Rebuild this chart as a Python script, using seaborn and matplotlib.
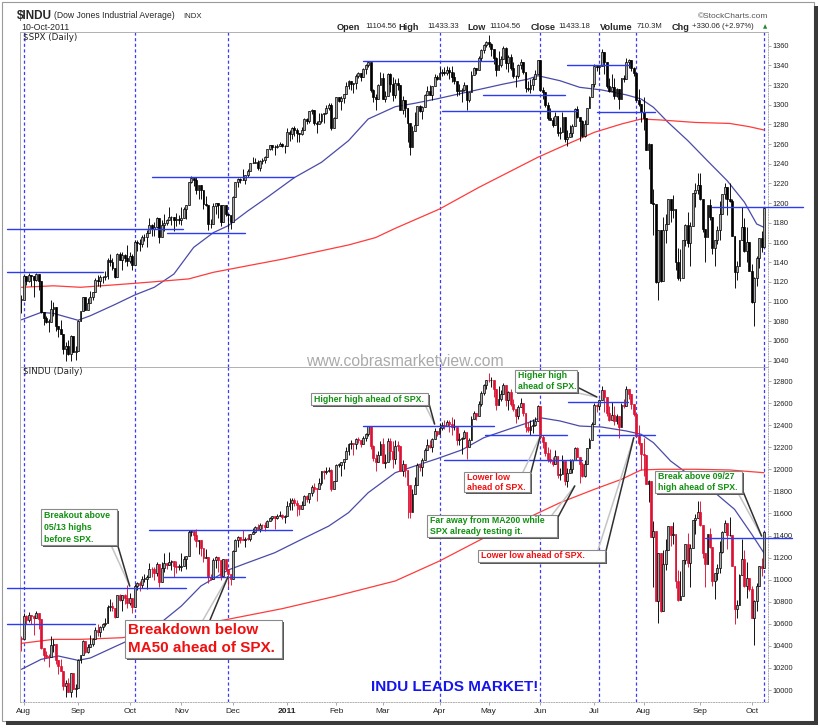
import numpy as np
import pandas as pd
import matplotlib
matplotlib.use("Agg")
import matplotlib.pyplot as plt
import seaborn as sns
from matplotlib.patches import Rectangle
from matplotlib.lines import Line2D

sns.set_theme(style="white")
plt.rcParams['font.family'] = ['Liberation Sans', 'DejaVu Sans']

# ---------------- data ----------------
holidays = ["2010-09-06", "2010-11-25", "2010-12-24", "2011-01-17", "2011-02-21",
            "2011-04-22", "2011-05-30", "2011-07-04", "2011-09-05"]
days = pd.bdate_range("2010-07-30", "2011-10-10")
days = days[~days.isin(pd.to_datetime(holidays))]

spx_first_open = 1101.5
spx_close = [1101.6,
 1125.9,1120.5,1127.2,1125.8,1121.6,1127.8,1121.1,1089.5,1083.6,1079.3,1079.4,1092.5,1094.2,1075.6,1071.7,1067.4,1051.9,1055.3,1047.2,1064.6,1048.9,1049.3,
 1080.3,1090.1,1104.5,1091.8,1098.9,1104.2,1109.6,1121.9,1121.1,1125.1,1124.7,1125.6,1142.7,1139.8,1134.3,1124.8,1148.7,1142.2,1147.7,1144.7,1141.2,
 1146.2,1137.0,1160.8,1160.0,1158.1,1165.2,1165.3,1169.8,1178.1,1173.8,1176.2,1184.7,1165.9,1178.2,1180.3,1183.1,1185.6,1185.6,1182.5,1183.8,1183.3,
 1184.4,1193.6,1198.0,1221.1,1225.9,1223.3,1213.4,1218.7,1213.5,1199.2,1197.8,1178.3,1178.6,1196.7,1199.7,1197.8,1180.7,1198.4,1189.4,1187.8,1180.6,
 1206.1,1221.5,1224.7,1223.1,1223.8,1228.3,1233.0,1240.4,1240.5,1241.6,1235.2,1242.9,1243.9,1247.1,1254.6,1258.8,1256.8,1257.5,1258.5,1259.8,1257.9,1257.6,
 1271.9,1270.2,1276.6,1273.9,1271.5,1269.8,1274.5,1286.0,1283.8,1293.2,1295.0,1281.9,1280.3,1283.4,1290.8,1291.2,1296.6,1299.5,1276.3,1286.1,
 1307.6,1304.0,1307.1,1310.9,1319.1,1324.6,1320.9,1321.9,1329.2,1332.3,1328.0,1336.3,1340.4,1343.0,1315.4,1307.4,1306.1,1319.9,1327.2,
 1306.3,1308.4,1331.0,1321.2,1310.1,1321.8,1320.0,1295.1,1304.3,1296.4,1281.9,1256.9,1273.7,1279.2,1298.4,1293.8,1297.5,1309.7,1313.8,1310.2,1319.4,1328.3,1325.8,
 1332.4,1332.9,1332.6,1335.5,1333.5,1328.2,1324.5,1314.2,1314.4,1314.5,1319.7,1305.1,1312.6,1330.4,1337.4,1335.3,1347.2,1355.7,1360.5,1363.6,
 1361.2,1356.6,1347.3,1335.1,1340.2,1346.3,1357.2,1342.1,1348.7,1337.8,1329.5,1329.0,1340.7,1343.6,1333.3,1317.4,1316.3,1320.5,1325.7,1331.1,1345.2,
 1314.6,1312.9,1300.2,1286.2,1284.9,1279.6,1289.0,1271.0,1271.8,1287.9,1265.4,1267.6,1271.5,1278.4,1295.5,1287.1,1283.5,1268.5,1280.1,1296.7,1307.4,1320.6,
 1339.7,1337.9,1339.2,1353.2,1343.8,1319.5,1313.6,1317.7,1308.9,1316.1,1305.4,1326.7,1325.8,1343.8,1345.0,1337.4,1331.9,1304.9,1300.7,1292.3,
 1286.9,1254.1,1260.3,1200.1,1199.4,1119.5,1172.5,1120.8,1172.6,1178.8,1204.5,1192.8,1193.9,1140.7,1123.5,1123.8,1162.4,1177.6,1159.3,1176.8,1210.1,1212.9,1218.9,
 1204.4,1174.0,1165.2,1198.6,1185.9,1154.2,1162.3,1172.9,1188.7,1209.1,1216.0,1204.1,1202.1,1166.8,1129.6,1136.4,1163.0,1175.4,1151.1,1160.4,1131.4,
 1099.2,1124.0,1144.0,1165.0,1155.5,1194.9]
spx_high = [1106.4,
 1127.3,1125.4,1128.8,1126.6,1122.8,1129.2,1127.2,1111.7,1086.3,1085.8,1082.6,1101.7,1099.8,1093.8,1075.6,1081.6,1067.4,1059.4,1061.4,1065.9,1064.5,1055.1,
 1081.3,1090.1,1105.1,1102.6,1103.3,1110.9,1110.0,1123.5,1127.4,1126.5,1126.1,1131.5,1144.4,1148.6,1144.4,1133.9,1148.9,1149.9,1150.0,1148.6,1157.2,
 1150.3,1148.2,1162.8,1162.3,1163.9,1167.7,1168.7,1172.6,1184.4,1178.9,1181.2,1185.5,1178.6,1182.9,1189.4,1183.9,1196.1,1187.1,1183.8,1189.5,1187.9,
 1195.8,1196.1,1198.3,1221.3,1227.1,1224.6,1226.8,1218.8,1215.5,1210.5,1207.4,1194.1,1183.6,1200.1,1199.9,1198.9,1190.9,1198.4,1198.4,1189.4,1187.4,
 1207.6,1221.9,1225.6,1225.7,1235.1,1228.9,1234.3,1240.4,1246.7,1246.1,1244.3,1243.7,1245.8,1248.3,1255.0,1259.4,1258.6,1258.6,1259.9,1262.6,1261.0,1259.3,
 1276.2,1274.1,1277.6,1278.2,1276.8,1271.5,1277.6,1286.2,1286.6,1293.2,1296.1,1294.6,1283.0,1291.2,1291.3,1291.3,1299.7,1301.3,1301.4,1287.2,
 1308.0,1307.6,1308.6,1311.0,1322.9,1324.9,1324.6,1322.0,1330.8,1332.8,1330.6,1337.8,1341.5,1344.1,1338.9,1316.4,1310.9,1320.9,1333.1,
 1332.3,1314.4,1332.3,1332.0,1327.7,1325.7,1326.8,1315.7,1308.4,1301.9,1284.3,1280.9,1278.7,1292.3,1299.2,1299.4,1298.4,1311.3,1319.2,1319.7,1319.4,1331.7,1329.8,
 1337.9,1336.7,1338.2,1339.5,1338.8,1339.5,1333.2,1321.4,1321.4,1316.8,1323.0,1319.1,1313.0,1334.2,1338.3,1337.5,1349.6,1357.1,1361.7,1364.6,
 1370.6,1362.9,1355.4,1348.3,1354.4,1349.4,1359.4,1358.7,1351.0,1351.1,1343.3,1330.4,1341.3,1346.8,1342.8,1333.1,1323.7,1325.9,1328.5,1334.8,1345.2,
 1345.2,1318.0,1312.9,1302.3,1296.2,1287.9,1292.7,1289.0,1277.0,1292.5,1286.0,1274.1,1279.8,1280.4,1297.0,1298.6,1286.8,1284.9,1284.5,1296.8,1309.2,1321.4,
 1341.0,1340.0,1340.2,1356.5,1343.8,1343.3,1327.2,1331.5,1327.1,1317.5,1315.4,1327.4,1330.4,1347.0,1346.1,1345.0,1338.5,1331.9,1316.3,1300.6,
 1307.4,1286.9,1261.0,1260.2,1214.4,1198.9,1172.9,1162.8,1186.3,1189.0,1204.5,1204.5,1208.5,1193.9,1154.1,1153.4,1162.4,1178.5,1190.7,1181.2,1210.3,1220.1,1230.7,
 1230.3,1204.4,1173.9,1198.6,1204.2,1185.9,1162.5,1176.4,1202.4,1209.1,1220.1,1216.0,1220.4,1204.4,1166.8,1141.7,1163.0,1195.9,1184.6,1175.3,1160.4,
 1138.1,1125.2,1146.1,1165.0,1171.4,1194.9]
spx_low = [1088.0,
 1107.7,1116.8,1119.5,1116.1,1105.0,1120.9,1111.6,1088.6,1076.6,1078.7,1069.2,1079.4,1085.8,1070.2,1063.9,1067.1,1046.7,1039.8,1045.4,1039.7,1048.8,1040.9,
 1049.7,1080.4,1091.3,1091.2,1091.7,1100.0,1101.2,1109.6,1115.6,1114.6,1118.9,1122.4,1122.8,1136.2,1131.6,1124.0,1131.9,1142.0,1132.1,1140.3,1136.1,
 1139.4,1131.9,1140.7,1151.4,1151.4,1155.6,1162.0,1155.7,1171.3,1166.7,1167.1,1174.6,1159.7,1166.7,1171.2,1178.0,1184.7,1177.7,1171.7,1177.1,1179.0,
 1177.7,1184.7,1183.6,1198.3,1220.3,1217.0,1208.9,1204.3,1204.5,1194.1,1197.2,1173.0,1175.2,1178.6,1189.4,1184.6,1176.6,1180.7,1186.7,1173.6,1174.1,
 1186.6,1206.2,1216.1,1220.7,1223.3,1219.5,1226.8,1232.6,1240.3,1240.3,1234.0,1232.9,1239.9,1240.5,1247.6,1254.2,1254.1,1248.5,1256.2,1258.5,1256.8,1250.8,
 1257.6,1262.7,1265.4,1268.7,1261.7,1262.2,1269.6,1275.0,1280.5,1281.1,1290.2,1278.9,1271.3,1282.1,1281.1,1281.1,1291.0,1294.4,1274.8,1276.6,
 1286.1,1302.6,1294.8,1301.4,1312.2,1316.0,1314.9,1311.7,1316.1,1326.9,1324.6,1328.0,1331.0,1338.0,1312.6,1302.4,1294.3,1307.3,1320.6,
 1306.1,1302.6,1312.4,1312.8,1303.7,1306.9,1314.9,1294.2,1291.0,1288.0,1262.0,1249.1,1262.2,1279.2,1282.8,1292.7,1285.7,1297.7,1310.2,1310.2,1305.3,1321.9,1325.0,
 1328.9,1329.1,1330.0,1330.7,1326.6,1322.9,1321.1,1309.2,1309.5,1302.4,1314.4,1294.5,1302.9,1312.6,1330.4,1331.1,1335.3,1344.4,1352.9,1358.7,
 1358.6,1349.4,1341.5,1329.2,1336.4,1338.6,1346.3,1336.0,1333.5,1335.5,1327.3,1318.5,1326.7,1336.1,1330.8,1312.6,1313.9,1311.8,1314.6,1325.7,1331.1,
 1313.7,1305.6,1297.9,1284.9,1284.7,1277.4,1279.6,1268.6,1265.6,1272.7,1261.9,1258.1,1267.4,1267.6,1278.4,1287.0,1262.9,1267.5,1267.5,1280.1,1296.7,1307.4,
 1318.0,1334.0,1330.9,1339.2,1330.9,1317.0,1313.3,1314.2,1306.0,1307.4,1295.9,1305.4,1323.6,1325.9,1336.9,1334.7,1329.2,1303.5,1299.2,1282.9,
 1274.7,1254.0,1234.6,1200.0,1168.1,1119.3,1101.5,1120.1,1121.0,1159.0,1178.8,1180.5,1184.5,1132.1,1122.1,1121.2,1123.8,1156.3,1155.1,1135.9,1179.4,1195.8,1209.4,
 1203.4,1170.6,1140.1,1165.2,1183.3,1148.4,1136.1,1158.7,1162.7,1188.7,1204.5,1188.0,1201.3,1166.7,1114.2,1121.4,1136.9,1163.0,1150.5,1139.9,1131.4,
 1098.9,1074.8,1116.1,1134.0,1150.3,1158.7]

indu_first_open = 10467
indu_close = [10466,
 10674,10636,10680,10675,10654,10699,10644,10379,10320,10303,10302,10406,10416,10271,10214,10174,10040,10060,9986,10151,10010,10015,
 10269,10320,10448,10341,10387,10415,10463,10544,10526,10573,10595,10608,10754,10761,10739,10662,10860,10812,10858,10835,10788,
 10830,10751,10945,10968,10949,11006,11010,11020,11096,11095,11063,11144,10979,11108,11147,11133,11164,11169,11126,11114,11118,
 11125,11189,11215,11435,11444,11407,11347,11357,11283,11193,11202,11024,11008,11181,11204,11179,11036,11187,11092,11052,11006,
 11256,11362,11382,11362,11359,11372,11370,11410,11429,11477,11457,11499,11492,11478,11533,11559,11573,11555,11576,11585,11570,11578,
 11671,11691,11723,11697,11675,11637,11672,11755,11732,11787,11838,11825,11823,11872,11981,11977,11985,11990,11824,11892,
 12040,12042,12062,12092,12162,12233,12240,12229,12273,12268,12227,12288,12318,12391,12213,12106,12069,12130,12226,
 12058,12067,12258,12170,12090,12214,12213,11985,12044,11993,11855,11613,11775,11859,12037,12019,12086,12171,12221,12198,12279,12351,12320,
 12377,12400,12394,12427,12409,12380,12381,12264,12271,12285,12342,12202,12267,12454,12506,12480,12595,12691,12763,12811,
 12807,12808,12724,12584,12639,12685,12760,12630,12696,12596,12548,12480,12560,12605,12512,12381,12356,12395,12403,12442,12570,
 12290,12249,12151,12090,12071,12049,12124,11952,11953,12076,11897,11962,12004,12080,12190,12110,12050,11935,12044,12189,12261,12414,
 12583,12570,12626,12719,12657,12506,12447,12492,12437,12480,12385,12587,12572,12724,12681,12593,12501,12303,12240,12143,
 12132,11867,11896,11384,11445,10810,11240,10720,11143,11269,11483,11406,11410,10991,10818,10855,11177,11321,11150,11285,11539,11560,11614,
 11494,11240,11139,11415,11296,10992,11061,11106,11247,11433,11509,11401,11409,11125,10734,10771,11044,11191,10939,11011,10913,
 10655,10809,10940,11123,11103,11433]
indu_high = [10492,
 10702,10678,10705,10682,10676,10719,10699,10644,10378,10350,10326,10486,10464,10415,10275,10280,10174,10090,10110,10156,10150,10057,
 10280,10321,10453,10448,10415,10494,10469,10570,10596,10583,10609,10653,10767,10821,10800,10740,10861,10870,10862,10870,10948,
 10880,10830,10961,10981,10990,11029,11053,11045,11155,11118,11116,11158,11144,11159,11245,11148,11247,11179,11169,11171,11142,
 11238,11215,11217,11451,11452,11444,11455,11358,11347,11282,11282,11202,11048,11200,11211,11200,11178,11188,11187,11092,11051,
 11269,11367,11396,11388,11452,11382,11412,11412,11467,11490,11502,11510,11505,11525,11543,11567,11577,11573,11594,11620,11592,11582,
 11711,11743,11742,11742,11726,11674,11717,11764,11771,11788,11861,11877,11833,11924,11986,11990,12021,12020,12000,11895,
 12051,12055,12066,12093,12201,12234,12264,12240,12285,12295,12268,12303,12325,12392,12365,12221,12141,12163,12258,
 12285,12138,12283,12283,12258,12262,12259,12213,12081,12044,11993,11856,11818,11927,12060,12051,12099,12191,12270,12267,12280,12371,12350,
 12419,12428,12447,12450,12451,12471,12452,12381,12329,12296,12355,12342,12282,12483,12526,12510,12617,12706,12777,12812,
 12877,12840,12808,12724,12756,12715,12784,12761,12713,12728,12640,12548,12581,12648,12605,12512,12429,12446,12455,12472,12580,
 12570,12309,12249,12202,12186,12110,12171,12124,12011,12134,12062,12015,12095,12096,12205,12199,12098,12070,12083,12191,12288,12429,
 12599,12593,12636,12753,12657,12652,12570,12609,12577,12500,12480,12604,12636,12751,12728,12681,12593,12501,12401,12240,
 12283,12132,11907,11896,11532,11433,11244,11237,11270,11366,11483,11482,11520,11405,11090,11075,11177,11325,11427,11324,11540,11592,11717,
 11716,11493,11240,11415,11470,11296,11063,11145,11354,11437,11539,11508,11572,11406,11120,10819,11047,11366,11266,11164,11010,
 10943,10814,10968,11124,11195,11433]
indu_low = [10350,
 10468,10600,10618,10597,10501,10654,10553,10370,10264,10297,10207,10302,10346,10235,10147,10170,10000,9936,9978,9941,10009,9937,
 10016,10242,10321,10338,10336,10387,10400,10463,10487,10482,10545,10580,10608,10718,10713,10656,10663,10810,10714,10778,10742,
 10773,10696,10752,10910,10900,10920,10983,10915,11020,11020,10994,11035,10929,10979,11067,11093,11133,11091,11025,11062,11087,
 11074,11125,11095,11215,11391,11356,11300,11236,11210,11158,11192,10969,10994,11008,11108,11072,10996,11036,11075,10929,10955,
 11007,11256,11294,11334,11358,11300,11356,11350,11410,11426,11448,11436,11462,11443,11478,11528,11540,11461,11548,11575,11549,11513,
 11578,11630,11634,11663,11578,11583,11637,11672,11702,11696,11762,11790,11717,11823,11860,11910,11960,11973,11803,11824,
 11892,12020,11937,12005,12092,12133,12186,12127,12180,12239,12199,12227,12256,12306,12180,12073,11983,12069,12130,
 12055,12016,12067,12088,12012,12050,12163,11983,11937,11931,11555,11555,11613,11775,11859,11986,11939,12086,12171,12194,12153,12279,12304,
 12320,12353,12368,12394,12334,12313,12352,12221,12216,12141,12270,12093,12202,12267,12454,12450,12480,12577,12676,12732,
 12790,12743,12651,12534,12584,12619,12685,12569,12537,12577,12532,12418,12455,12560,12482,12334,12339,12315,12333,12396,12442,
 12276,12193,12116,12068,12060,12027,12049,11925,11904,11953,11862,11842,11978,11965,12080,12108,11874,11926,11926,12044,12189,12261,
 12414,12522,12539,12626,12520,12483,12442,12460,12405,12409,12282,12385,12553,12571,12637,12543,12479,12289,12216,11993,
 11938,11864,11700,11383,10929,10809,10604,10711,10720,11087,11269,11306,11323,10923,10811,10813,10854,11142,11114,10929,11286,11415,11560,
 11483,11200,10932,11140,11283,10942,10825,10993,11061,11244,11433,11280,11397,11122,10597,10648,10771,11044,10937,10834,10897,
 10653,10404,10719,10939,11033,11105]

# moving averages
spx_ma50_dates = ["2010-07-30","2010-08-11","2010-08-18","2010-09-01","2010-09-09","2010-09-23","2010-10-05","2010-10-15",
    "2010-10-27","2010-11-08","2010-11-18","2010-11-29","2010-12-09","2010-12-21","2011-01-06","2011-01-24","2011-02-08",
    "2011-02-18","2011-03-08","2011-03-18","2011-03-31","2011-04-14","2011-04-27","2011-05-10","2011-05-24","2011-05-31",
    "2011-06-13","2011-06-23","2011-07-07","2011-07-21","2011-07-29","2011-08-05","2011-08-15","2011-08-25","2011-09-07",
    "2011-09-19","2011-09-28","2011-10-05","2011-10-10"]
spx_ma50 = [1081.5,1089,1088,1081,1085.6,1097,1106.6,1114.5,1128,1155,1170,1177,1192,1206,1226,1241.5,1263.5,1285.5,1298,
    1301.5,1306,1311.6,1316,1321,1326,1329.5,1324.4,1317.7,1315,1310,1305.8,1297.4,1282,1263.5,1243,1222.8,1201,1178.8,1175.4]
spx_ma200_dates = ["2010-07-30","2010-08-18","2010-09-02","2010-09-23","2010-10-12","2010-11-04","2010-11-18","2010-12-09",
    "2010-12-30","2011-01-19","2011-02-08","2011-02-24","2011-03-08","2011-04-01","2011-04-26","2011-05-18","2011-05-31",
    "2011-06-16","2011-07-01","2011-07-19","2011-07-29","2011-08-10","2011-08-30","2011-09-20","2011-09-30","2011-10-10"]
spx_ma200 = [1114.5,1116,1114.5,1117,1119.5,1123,1129.7,1136.4,1143,1150,1157.5,1165,1174.4,1194,1216,1236.4,1246.6,
    1260,1272,1280.4,1285.5,1284.5,1282,1281,1277.7,1274.3]
indu_ma50_dates = ["2010-07-30","2010-08-11","2010-08-20","2010-09-01","2010-09-09","2010-09-23","2010-10-05","2010-10-18",
    "2010-11-01","2010-11-11","2010-11-23","2010-11-29","2010-12-09","2010-12-27","2011-01-11","2011-01-27","2011-02-08",
    "2011-02-18","2011-03-08","2011-03-18","2011-03-31","2011-04-14","2011-04-28","2011-05-12","2011-05-24","2011-06-01",
    "2011-06-13","2011-06-23","2011-07-07","2011-07-21","2011-07-29","2011-08-05","2011-08-16","2011-08-30","2011-09-12",
    "2011-09-22","2011-10-03","2011-10-10"]
indu_ma50 = [10188,10278,10308,10269,10290,10393,10474,10580,10761,10943,11048,11087,11154,11244,11366,11486,11607,11788,
    11969,12030,12096,12175,12286,12362,12422,12467,12438,12392,12383,12347,12317,12241,12075,11909,11788,11637,11411,11240]
indu_ma200_dates = ["2010-07-30","2010-08-18","2010-09-02","2010-09-28","2010-11-29","2010-12-30","2011-01-31","2011-03-08",
    "2011-04-01","2011-04-27","2011-05-24","2011-06-13","2011-07-01","2011-07-19","2011-07-29","2011-08-10","2011-08-30",
    "2011-09-20","2011-10-10"]
indu_ma200 = [10423,10459,10459,10474,10641,10737,10846,10988,11169,11366,11561,11697,11819,11909,11994,12000,12000,11994,11969]

# author's support / resistance lines (trading-day positions, level)
spx_levels = [1130, 1173.6, 1170, 1227, 1344, 1310, 1294, 1340, 1293, 1195.9]
spx_level_from = [-6, -6, 59, 53, 139, 187.6, 171, 222, 234, 281]
spx_level_to = [33, 65.5, 91, 111, 192, 221, 226, 247, 257.6, 318]
indu_levels = [10601, 10922, 11452, 11021, 12389, 12308, 12081, 12610, 12308, 11377]
indu_level_from = [-6, -6, 52, 57.5, 139, 188.4, 172, 222.3, 234, 278]
indu_level_to = [29.7, 67, 110, 91, 192, 221.7, 227.8, 246.8, 257.6, 313.4]

marker_dates = ["2010-08-02", "2010-10-05", "2010-11-29", "2011-04-01", "2011-06-01",
                "2011-07-06", "2011-07-27", "2011-10-10"]

callout_text = [["Breakout above", "05/13 highs", "before SPX."],
                ["Breakdown below", "MA50 ahead of SPX."],
                ["Higher high ahead of SPX."],
                ["Lower low", "ahead of SPX."],
                ["Far away from MA200 while", "SPX already testing it."],
                ["Higher high", "ahead of SPX."],
                ["Lower low ahead of SPX."],
                ["Break above 09/27", "high ahead of SPX."]]
callout_tip_dates = ["2010-10-01", "2010-11-29", "2011-03-30", "2011-06-01", "2011-06-21",
                     "2011-07-05", "2011-07-26", "2011-10-07"]
callout_tip_vals = [10942, 11027, 12410, 12302, 11849, 12655, 12286, 11395]

# ---------------- figure ----------------
W, H = 820, 728
fig = plt.figure(figsize=(W / 100, H / 100), dpi=100)
fig.patch.set_facecolor("white")


def fx(x):
    return x / W


def fy(y):
    return 1 - y / H


ax1 = fig.add_axes([fx(20), fy(367), (768 - 20) / W, (367 - 32) / H])
ax2 = fig.add_axes([fx(20), fy(702), (768 - 20) / W, (702 - 367) / H])

pos = np.arange(len(days))


def to_pos(dates):
    return days.searchsorted(pd.to_datetime(dates))


def build(close, high, low, first_open):
    df = pd.DataFrame({"close": close, "high": high, "low": low}, index=days)
    df["open"] = df["close"].shift(1).fillna(first_open)
    return df


spx = build(spx_close, spx_high, spx_low, spx_first_open)
indu = build(indu_close, indu_high, indu_low, indu_first_open)


def candles(ax, df, up_col, down_col, minh):
    o, c = df["open"].values, df["close"].values
    h, l = df["high"].values, df["low"].values
    prev = np.r_[o[0], c[:-1]]
    edge = np.where(c < prev, down_col, up_col)
    face = np.where(c >= o, "#a8a8a8", edge)
    lo = np.minimum(l, np.minimum(o, c))
    hi = np.maximum(h, np.maximum(o, c))
    ax.vlines(pos, lo, hi, colors=edge, lw=0.65, zorder=3)
    bot = np.minimum(o, c)
    ht = np.maximum(np.abs(c - o), minh)
    ax.bar(pos, ht, bottom=bot, width=0.76, color=face, edgecolor=edge,
           linewidth=0.5, zorder=4)


def ma_line(ax, dates, vals, color):
    sns.lineplot(x=to_pos(dates), y=vals, ax=ax, color=color, lw=0.9,
                 estimator=None, sort=False, zorder=2)


candles(ax1, spx, "#000000", "#000000", 0.6)
candles(ax2, indu, "#000000", "#dd1133", 6)
ma_line(ax1, spx_ma50_dates, spx_ma50, "#4a4aaa")
ma_line(ax1, spx_ma200_dates, spx_ma200, "#ff3b3b")
ma_line(ax2, indu_ma50_dates, indu_ma50, "#4a4aaa")
ma_line(ax2, indu_ma200_dates, indu_ma200, "#ff3b3b")

for ax, lv, a, b in [(ax1, spx_levels, spx_level_from, spx_level_to),
                     (ax2, indu_levels, indu_level_from, indu_level_to)]:
    for y, x0, x1 in zip(lv, a, b):
        ax.plot([x0, x1], [y, y], color="#2a3cf0", lw=1.0, zorder=5, clip_on=False)
    for d in to_pos(marker_dates):
        ax.axvline(d, color="#3a3aff", lw=0.9, dashes=(2.5, 2), zorder=1)

ax1.set_ylim(1033.5, 1373.9)
ax2.set_ylim(9891.3, 12926.9)
for ax in (ax1, ax2):
    ax.set_xlim(-0.61, 303.6)
    ax.set_xlabel("")
    ax.set_ylabel("")
    ax.yaxis.tick_right()
    ax.tick_params(axis="y", right=True, left=False, length=2, width=0.5, color="#888888",
                   labelsize=5.3, pad=1.5, labelcolor="#222222")
    for s in ax.spines.values():
        s.set_color("#b0b0b0")
        s.set_linewidth(0.7)
    ax.spines["right"].set_linestyle(":")
    ax.set_facecolor("white")

ax1.set_yticks(np.arange(1040, 1361, 20))
ax2.set_yticks(np.arange(10000, 12801, 200))
ax1.set_xticks([])
mser = pd.Series(days.to_period("M"))
starts = np.flatnonzero(mser.ne(mser.shift()).values)[1:]
labels = ["2011" if days[i].month == 1 else days[i].strftime("%b") for i in starts]
ax2.set_xticks(starts)
ax2.set_xticklabels(labels)
ax2.tick_params(axis="x", bottom=True, length=2, width=0.5, color="#888888",
                labelsize=6, pad=2, labelcolor="#222222")
for t in ax2.get_xticklabels():
    if t.get_text() == "2011":
        t.set_fontweight("bold")
ax2.spines["bottom"].set_linestyle(":")

ax1.text(fx(23), fy(37), "$SPX (Daily)", transform=fig.transFigure, fontsize=6.3,
         family="DejaVu Sans", va="center", color="#222222", zorder=10)
ax2.text(fx(23), fy(372), "$INDU (Daily)", transform=fig.transFigure, fontsize=6.3,
         family="DejaVu Sans", va="center", color="#222222", zorder=10)

# ---------------- header ----------------
fig.text(fx(17), fy(16), "$INDU", fontsize=8.5, fontweight="bold", va="center")
fig.text(fx(54), fy(16), "(Dow Jones Industrial Average)", fontsize=6.2, va="center")
fig.text(fx(183), fy(16), "INDX", fontsize=5.6, va="center")
fig.text(fx(21), fy(27), "10-Oct-2011", fontsize=6.3, va="center")
header = [("Open", 337, True), ("11104.56", 365, False), ("High", 398, True),
          ("11433.33", 427, False), ("Low", 467, True), ("11104.56", 489, False),
          ("Close", 531, True), ("11433.18", 558, False), ("Volume", 600, True),
          ("710.3M", 637, False), ("Chg", 672, True), ("+330.06 (+2.97%)", 692, False)]
for txt, x, b in header:
    fig.text(fx(x), fy(27), txt, fontsize=6.6 if b else 5.6,
             fontweight="bold" if b else "normal", va="center")
fig.text(fx(765), fy(27), "\u25b2", fontsize=4, color="#228822", va="center", ha="center",
         family="DejaVu Sans")
fig.text(fx(768), fy(16), "\u00a9StockCharts.com", fontsize=6, color="#555555",
         va="center", ha="right", family=["Liberation Sans", "DejaVu Sans"])

# watermark & title
fig.text(fx(405), fy(361), "www.cobrasmarketview.com", fontsize=11.3, color="#aaaaaa",
         ha="center", va="center", zorder=6)
fig.text(fx(455), fy(687), "INDU LEADS MARKET!", fontsize=11, color="#1414ee",
         fontweight="bold", ha="center", va="center", zorder=6)

# ---------------- callouts ----------------
boxes = [(41, 509, 117, 545), (125, 620, 282, 658), (311, 393, 428, 405), (464, 472, 530, 492),
         (427, 515, 557, 537), (515, 370, 577, 392), (478, 550, 605, 562), (655, 471, 742, 493)]
bases = [((111, 545), (117, 543)), ((203, 620), (210, 620)), ((425, 405), (428, 400)),
         ((523, 472), (530, 476)), ((552, 515), (557, 519)), ((573, 392), (577, 387)),
         ((598, 550), (605, 555)), ((738, 493), (742, 489))]
colors = ["#119011", "#ee1111", "#119011", "#ee1111", "#119011", "#119011", "#ee1111", "#119011"]
sizes = [6.3, 11, 6.3, 6.3, 6.3, 6.3, 6.3, 6.3]

inv = fig.transFigure.inverted()
tip_pos = to_pos(callout_tip_dates)
for k in range(len(boxes)):
    x0, y0, x1, y1 = boxes[k]
    tip = inv.transform(ax2.transData.transform((tip_pos[k], callout_tip_vals[k])))
    (ax_, ay_), (bx_, by_) = bases[k]
    fig.add_artist(Line2D([fx(ax_), tip[0]], [fy(ay_), tip[1]], color="#c4c4c4", lw=1.1, zorder=7))
    fig.add_artist(Line2D([fx(bx_), tip[0]], [fy(by_), tip[1]], color="#303030", lw=1.1, zorder=7))
    fig.add_artist(Rectangle((fx(x0 + 2), fy(y1 + 2)), (x1 - x0) / W, (y1 - y0) / H,
                             transform=fig.transFigure, facecolor="#555555", edgecolor="none", zorder=8))
    fig.add_artist(Rectangle((fx(x0), fy(y1)), (x1 - x0) / W, (y1 - y0) / H,
                             transform=fig.transFigure, facecolor="white", edgecolor="#8a8a8a",
                             lw=0.8, zorder=9))
    lines = callout_text[k]
    lh = (y1 - y0) / len(lines)
    for i, t in enumerate(lines):
        fig.text(fx(x0 + 3), fy(y0 + lh * (i + 0.5)), t, fontsize=sizes[k], fontweight="bold",
                 color=colors[k], va="center", ha="left", zorder=10)

# ---------------- outer frame ----------------
fig.add_artist(Rectangle((fx(2), fy(721)), 812 / W, 719 / H, transform=fig.transFigure,
                         facecolor="none", edgecolor="#9a9a9a", lw=0.8, zorder=11))
fig.add_artist(Rectangle((fx(814), fy(725)), 4 / W, 719 / H, transform=fig.transFigure,
                         facecolor="#3a3a3a", edgecolor="none", zorder=11))
fig.add_artist(Rectangle((fx(6), fy(725)), 812 / W, 4 / H, transform=fig.transFigure,
                         facecolor="#3a3a3a", edgecolor="none", zorder=11))

fig.savefig("out.png", dpi=100, facecolor="white")
